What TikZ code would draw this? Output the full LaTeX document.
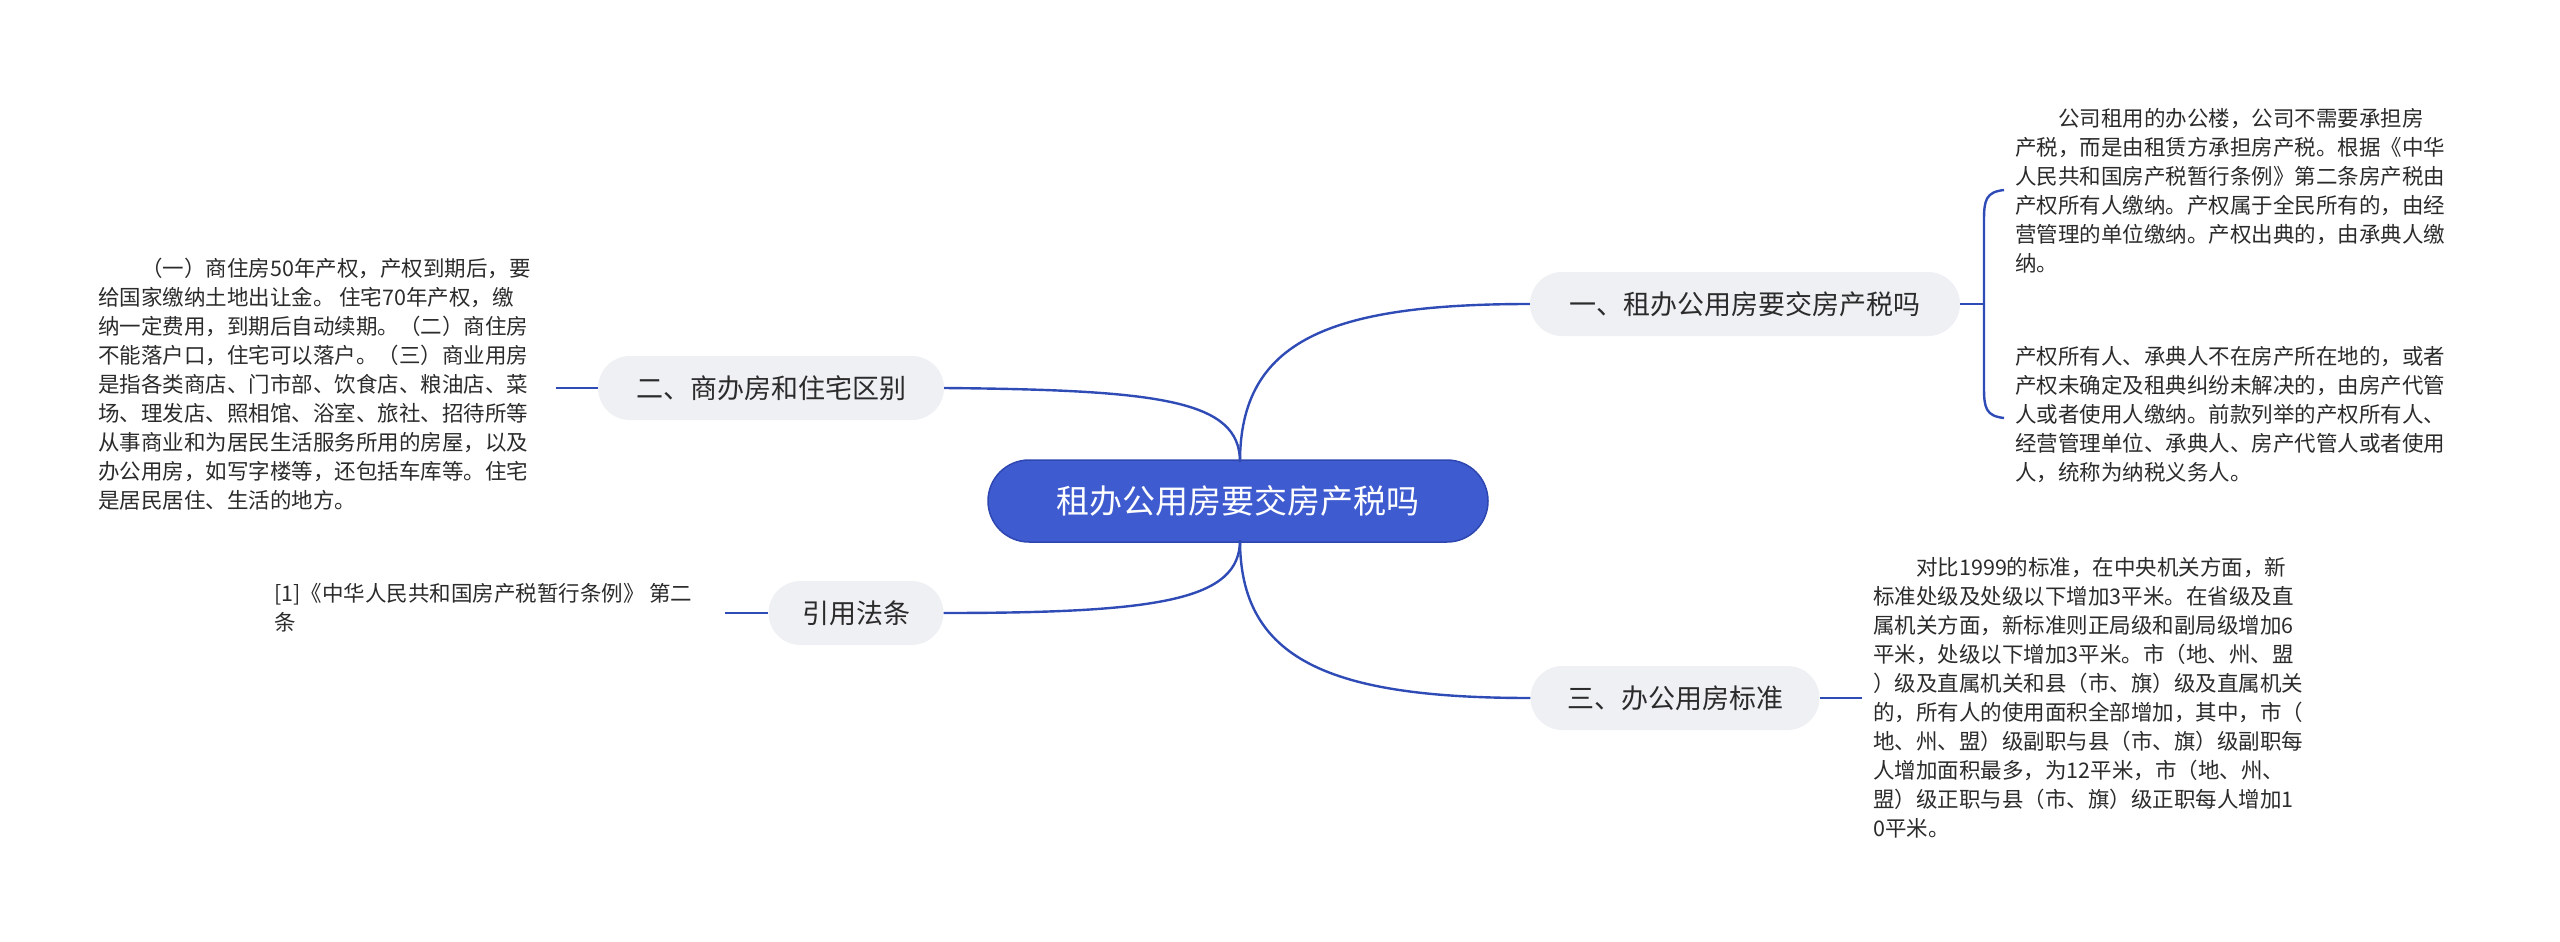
\documentclass[tikz,border=0pt]{standalone}
\usepackage{fontspec}
\setmainfont{Noto Sans CJK SC}
\begin{document}
\begin{tikzpicture}[x=1pt,y=-1pt,
  conn/.style={draw=linkblue,line width=2.4pt},
  root/.style={fill=rootblue,draw=rootedge,line width=1.5pt,text=white,rounded corners=41pt,minimum width=500pt,minimum height=82pt,font=\fontsize{33}{40}\selectfont},
  branch/.style={fill=branchgray,rounded corners=32pt,minimum height=64pt,inner xsep=26pt,font=\fontsize{27}{32}\selectfont,text=textgray},
  para/.style={align=left,anchor=north west,inner sep=0pt,font=\fontsize{21.5}{29}\selectfont,text=textgray}]
\definecolor{rootblue}{HTML}{3F5BD0}
\definecolor{rootedge}{HTML}{2E47B0}
\definecolor{linkblue}{HTML}{2F4BB5}
\definecolor{branchgray}{HTML}{EEF0F4}
\definecolor{textgray}{HTML}{2B2B2B}
\useasboundingbox (0,0) rectangle (2560,942);
\node[root] (c) at (1238,501) {租办公用房要交房产税吗};
\node[branch,minimum width=430pt] (b1) at (1745,304) {一、租办公用房要交房产税吗};
\node[branch,minimum width=346pt] (b2) at (771,388) {二、商办房和住宅区别};
\node[branch,minimum width=175pt] (b3) at (856,613) {引用法条};
\node[branch,minimum width=289pt] (b4) at (1675,698) {三、办公用房标准};
\coordinate (ct) at (1240,462);
\coordinate (cb) at (1240,540);
\draw[conn] (ct) .. controls (1240,340) and (1330,304) .. (b1.west);
\draw[conn] (cb) .. controls (1240,660) and (1330,698) .. (b4.west);
\draw[conn] (b2.east) .. controls (1160,390) and (1240,400) .. (ct);
\draw[conn] (b3.east) .. controls (1160,613) and (1240,600) .. (cb);
% right top
\node[para] (t1) at (2015,108) {\hspace*{2em}公司租用的办公楼，公司不需要承担房\\产税，而是由租赁方承担房产税。根据《中华\\人民共和国房产税暂行条例》第二条房产税由\\产权所有人缴纳。产权属于全民所有的，由经\\营管理的单位缴纳。产权出典的，由承典人缴\\纳。};
\node[para] (t2) at (2015,346) {产权所有人、承典人不在房产所在地的，或者\\产权未确定及租典纠纷未解决的，由房产代管\\人或者使用人缴纳。前款列举的产权所有人、\\经营管理单位、承典人、房产代管人或者使用\\人，统称为纳税义务人。};
\coordinate (bm) at (1984,304);
\coordinate (bt) at (2004,190);
\coordinate (bb) at (2004,418);
\draw[conn] (b1.east) -- (bm);
\draw[conn] (bt) .. controls (1986,192) and (1984,200) .. (1984,220) -- (1984,388) .. controls (1984,408) and (1986,416) .. (bb);
% left
\node[para] (t3) at (98,258) {\hspace*{2em}（一）商住房50年产权，产权到期后，要\\给国家缴纳土地出让金。 住宅70年产权，缴\\纳一定费用，到期后自动续期。（二）商住房\\不能落户口，住宅可以落户。（三）商业用房\\是指各类商店、门市部、饮食店、粮油店、菜\\场、理发店、照相馆、浴室、旅社、招待所等\\从事商业和为居民生活服务所用的房屋，以及\\办公用房，如写字楼等，还包括车库等。住宅\\是居民居住、生活的地方。};
\coordinate (l2) at (556,388);
\draw[conn] (b2.west) -- (l2);
\node[para] (t4) at (274,583) {[1]《中华人民共和国房产税暂行条例》 第二\\条};
\coordinate (l3) at (725,613);
\draw[conn] (b3.west) -- (l3);
% bottom right
\node[para] (t5) at (1873,557) {\hspace*{2em}对比1999的标准，在中央机关方面，新\\标准处级及处级以下增加3平米。在省级及直\\属机关方面，新标准则正局级和副局级增加6\\平米，处级以下增加3平米。市（地、州、盟\\）级及直属机关和县（市、旗）级及直属机关\\的，所有人的使用面积全部增加，其中，市（\\地、州、盟）级副职与县（市、旗）级副职每\\人增加面积最多，为12平米，市（地、州、\\盟）级正职与县（市、旗）级正职每人增加1\\0平米。};
\coordinate (l4) at (1862,698);
\draw[conn] (b4.east) -- (l4);
\end{tikzpicture}
\end{document}
